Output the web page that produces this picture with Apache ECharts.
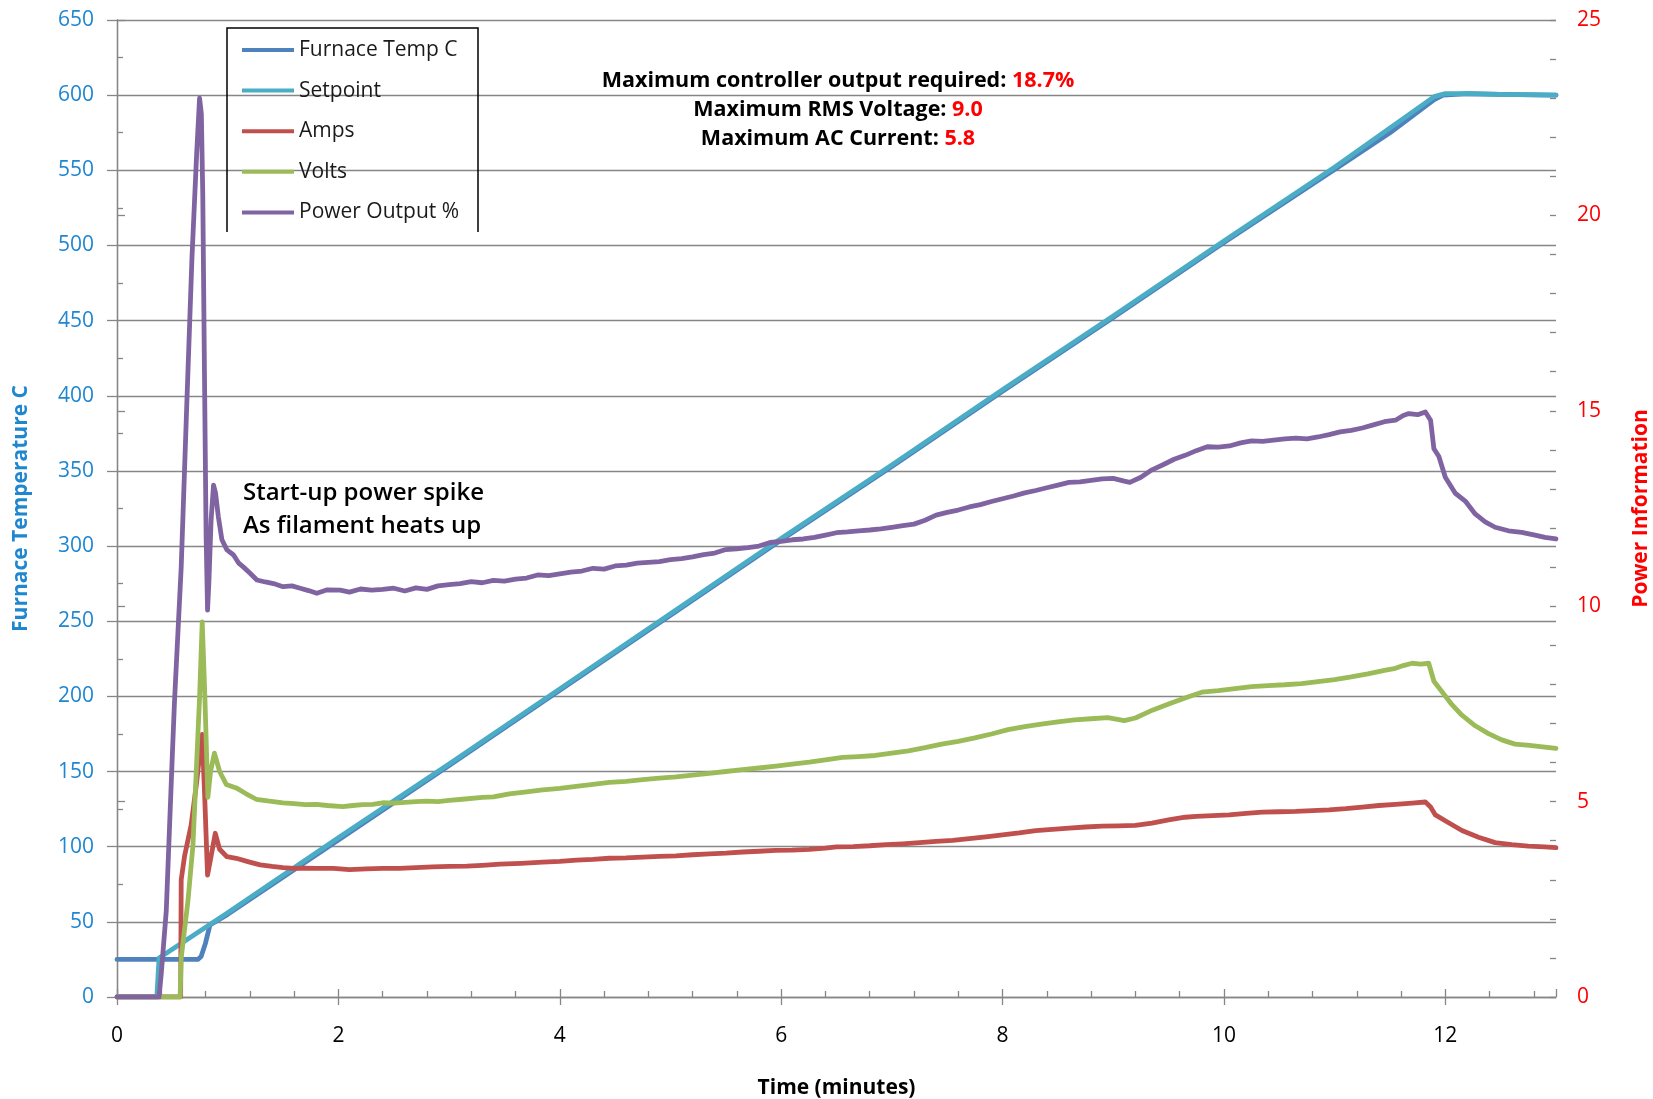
<!DOCTYPE html>
<html><head><meta charset="utf-8">
<script src="https://cdn.jsdelivr.net/npm/echarts/dist/echarts.min.js"></script>
<style>html,body{margin:0;padding:0;background:#fff}#c{width:1653px;height:1099px}</style>
</head><body><div id="c"></div><script>
const FONT = '"Open Sans", Lato, sans-serif';
const seriesNames = ['Furnace Temp C','Setpoint','Amps','Volts','Power Output %'];
const seriesColors = ['#4F81BD','#4BACC6','#C0504D','#9BBB59','#8064A2'];
const xRange = {min:0, max:13, interval:2};
const leftRange = {min:0, max:650, interval:50};
const rightRange = {min:0, max:25, interval:5};

const timeFurnace = [0,0.73,0.76,0.8,0.84,1,2,3,4,5,6,7,8,9,10,11,11.5,11.9,11.98,12.2,12.5,13];
const furnace = [25,25,27,36,48,55,104.5,154,204,254,304,353,403,452,502,550.5,575,597,600,601,600.5,600];
const timeSetpoint = [0,0.36,0.38,1,2,3,4,5,6,7,8,9,10,11,11.9,12.0,12.2,12.5,13];
const setpoint = [0,0,26,56,106,155,205,255,305,354,404,453,503,552,599,601,601,600.5,600];

const timeAmps = [0,0.575,0.58,0.61,0.67,0.72,0.75,0.77,0.79,0.818,0.85,0.888,0.927,0.993,1.077,1.198,1.294,1.4,1.5,1.595,1.7,1.8,1.956,2.1,2.25,2.4,2.55,2.7,2.85,3.0,3.16,3.3,3.46,3.65,3.846,4.0,4.15,4.3,4.448,4.6,4.75,4.9,5.05,5.2,5.35,5.5,5.652,5.8,5.95,6.1,6.254,6.4,6.5,6.65,6.8,6.95,7.097,7.25,7.4,7.55,7.699,7.85,8.0,8.15,8.3,8.45,8.6,8.75,8.9,9.05,9.2,9.35,9.5,9.65,9.75,9.9,10.047,10.2,10.348,10.5,10.649,10.8,10.95,11.1,11.25,11.4,11.55,11.7,11.82,11.867,11.91,12.03,12.15,12.3,12.45,12.6,12.75,12.9,13.0];
const amps = [0,0,3.0,3.6,4.4,5.5,6.3,6.72,5.3,3.12,3.6,4.19,3.78,3.59,3.55,3.45,3.38,3.34,3.31,3.29,3.3,3.29,3.29,3.26,3.28,3.29,3.29,3.31,3.33,3.34,3.35,3.37,3.4,3.42,3.45,3.47,3.5,3.52,3.55,3.56,3.58,3.6,3.61,3.64,3.66,3.68,3.71,3.73,3.75,3.76,3.78,3.81,3.84,3.85,3.87,3.9,3.92,3.95,3.98,4.01,4.05,4.1,4.15,4.2,4.26,4.29,4.32,4.35,4.37,4.38,4.39,4.45,4.53,4.6,4.62,4.64,4.66,4.7,4.73,4.74,4.75,4.77,4.79,4.82,4.86,4.9,4.93,4.96,4.99,4.86,4.66,4.46,4.26,4.09,3.95,3.9,3.86,3.84,3.82];

const timeVolts = [0,0.57,0.58,0.641,0.686,0.716,0.746,0.77,0.794,0.821,0.845,0.88,0.927,0.987,1.077,1.167,1.258,1.378,1.5,1.6,1.7,1.8,1.9,2.04,2.13,2.22,2.31,2.4,2.5,2.6,2.7,2.8,2.9,3.0,3.12,3.3,3.4,3.545,3.7,3.846,4.0,4.147,4.3,4.448,4.6,4.749,4.9,5.05,5.2,5.35,5.5,5.652,5.8,5.953,6.1,6.254,6.4,6.555,6.7,6.85,7.0,7.15,7.3,7.45,7.6,7.75,7.9,8.05,8.2,8.35,8.5,8.65,8.8,8.95,9.1,9.2,9.354,9.5,9.655,9.8,9.95,10.1,10.25,10.4,10.55,10.7,10.85,11.0,11.15,11.3,11.45,11.55,11.62,11.7,11.78,11.85,11.897,11.97,12.06,12.15,12.27,12.39,12.51,12.63,12.76,12.88,13.0];
const volts = [0,0,1.0,2.46,3.88,5.77,7.66,9.6,7.66,5.11,5.77,6.24,5.77,5.44,5.35,5.2,5.06,5.01,4.97,4.95,4.92,4.93,4.9,4.87,4.9,4.92,4.93,4.97,4.96,4.98,5.0,5.01,5.0,5.03,5.06,5.11,5.12,5.2,5.25,5.3,5.34,5.39,5.44,5.49,5.52,5.56,5.6,5.63,5.68,5.72,5.77,5.82,5.86,5.91,5.96,6.01,6.07,6.13,6.15,6.18,6.24,6.3,6.38,6.47,6.54,6.63,6.73,6.84,6.92,6.98,7.04,7.09,7.12,7.15,7.07,7.14,7.34,7.5,7.66,7.8,7.84,7.89,7.94,7.97,7.99,8.02,8.07,8.12,8.19,8.27,8.36,8.41,8.48,8.54,8.52,8.54,8.08,7.81,7.48,7.21,6.94,6.74,6.58,6.47,6.44,6.4,6.36];

const timePower = [0,0.38,0.40,0.445,0.5,0.52,0.58,0.626,0.677,0.72,0.746,0.762,0.775,0.79,0.805,0.818,0.83,0.85,0.872,0.89,0.915,0.948,0.993,1.053,1.1,1.143,1.2,1.264,1.34,1.414,1.5,1.58,1.655,1.73,1.805,1.9,2.016,2.1,2.2,2.3,2.4,2.5,2.6,2.7,2.8,2.9,3.0,3.1,3.2,3.3,3.4,3.5,3.6,3.7,3.8,3.9,4.0,4.1,4.2,4.3,4.4,4.5,4.6,4.7,4.8,4.9,5.0,5.1,5.2,5.3,5.4,5.5,5.6,5.7,5.8,5.9,6.0,6.1,6.2,6.3,6.4,6.5,6.6,6.7,6.8,6.9,7.0,7.1,7.2,7.3,7.4,7.5,7.6,7.7,7.8,7.9,8.0,8.1,8.2,8.3,8.4,8.5,8.6,8.7,8.8,8.9,9.0,9.1,9.15,9.25,9.35,9.45,9.55,9.65,9.75,9.85,9.95,10.05,10.15,10.25,10.35,10.45,10.55,10.65,10.75,10.85,10.95,11.05,11.15,11.25,11.35,11.45,11.55,11.62,11.67,11.75,11.82,11.867,11.897,11.942,12.0,12.09,12.18,12.27,12.36,12.45,12.57,12.69,12.81,12.9,13.0];
const power = [0,0,0.6,2.2,6.2,7.6,11.0,14.8,18.9,21.6,23.0,22.6,20.5,16.0,11.8,9.9,10.6,12.2,13.1,12.9,12.3,11.7,11.44,11.31,11.1,11.0,10.85,10.67,10.62,10.58,10.5,10.52,10.46,10.4,10.33,10.42,10.41,10.36,10.44,10.41,10.43,10.46,10.39,10.47,10.43,10.52,10.55,10.58,10.63,10.6,10.66,10.64,10.69,10.72,10.8,10.78,10.83,10.87,10.9,10.97,10.95,11.03,11.05,11.1,11.12,11.14,11.19,11.22,11.26,11.32,11.36,11.45,11.47,11.5,11.54,11.63,11.66,11.7,11.72,11.76,11.82,11.88,11.9,11.93,11.95,11.98,12.02,12.06,12.1,12.2,12.33,12.4,12.46,12.54,12.6,12.68,12.75,12.82,12.9,12.96,13.03,13.1,13.17,13.18,13.22,13.26,13.27,13.2,13.17,13.3,13.49,13.62,13.76,13.86,13.98,14.08,14.07,14.1,14.18,14.23,14.22,14.25,14.28,14.3,14.28,14.33,14.39,14.46,14.5,14.56,14.64,14.72,14.76,14.88,14.93,14.9,14.97,14.76,14.03,13.83,13.3,12.89,12.69,12.36,12.16,12.02,11.93,11.89,11.82,11.76,11.72];

const annotationLines = [
  ['Maximum controller output required: ', '18.7%'],
  ['Maximum RMS Voltage: ', '9.0'],
  ['Maximum AC Current: ', '5.8']
];
const spikeNote = ['Start-up power spike', 'As filament heats up'];

function zip(t, v) { return t.map((x, i) => [x, v[i]]); }

const AX = '#868686';
const GRID = {left:117, top:20, width:1439, height:977};
const LW = 4.8;

const chart = echarts.init(document.getElementById('c'), null, {renderer:'canvas'});
const seriesData = [zip(timeFurnace, furnace), zip(timeSetpoint, setpoint), zip(timeAmps, amps), zip(timeVolts, volts), zip(timePower, power)];
const yIdx = [0,0,1,1,1];

chart.setOption({
  animation:false,
  backgroundColor:'#fff',
  textStyle:{fontFamily:FONT},
  grid:Object.assign({containLabel:false, outerBoundsMode:'none'}, GRID),
  legend:{
    orient:'vertical', left:242, top:38, padding:0,
    itemWidth:52, itemHeight:4, itemGap:16.6,
    data:seriesNames.map(n => ({name:n, icon:'rect'})),
    textStyle:{fontFamily:FONT, fontSize:21, color:'#1a1a1a', lineHeight:24}
  },
  xAxis:[
    {type:'value', min:xRange.min, max:xRange.max, interval:xRange.interval, position:'bottom',
     axisLine:{lineStyle:{color:AX, width:1.3}},
     axisTick:{inside:false, length:8, lineStyle:{color:AX, width:1.3}},
     splitLine:{show:false},
     axisLabel:{margin:29, fontSize:21, color:'#000', fontFamily:FONT, showMaxLabel:false,
       formatter:v => (v % 2 === 0 ? String(v) : '')},
     name:'Time (minutes)', nameLocation:'middle', nameGap:81,
     nameTextStyle:{fontWeight:'bold', fontSize:21, color:'#000', fontFamily:FONT}},
    {type:'value', min:xRange.min, max:xRange.max, interval:xRange.interval, position:'bottom',
     axisLine:{show:false}, axisLabel:{show:false}, splitLine:{show:false},
     axisTick:{inside:true, length:8, lineStyle:{color:AX, width:1.3}},
     minorTick:{show:true, splitNumber:5, length:6, lineStyle:{color:AX, width:1.3}}}
  ],
  yAxis:[
    {type:'value', min:leftRange.min, max:leftRange.max, interval:leftRange.interval, position:'left',
     axisLine:{show:true, lineStyle:{color:AX, width:1.3}},
     axisTick:{show:true, inside:false, length:10, lineStyle:{color:AX, width:1.3}},
     splitLine:{show:true, lineStyle:{color:AX, width:1.3}},
     axisLabel:{margin:23, fontSize:21, color:'#1F86D0', fontFamily:FONT},
     name:'Furnace Temperature C', nameLocation:'middle', nameGap:85, nameRotate:90,
     nameTextStyle:{fontWeight:'bold', fontSize:21, color:'#1F86D0', fontFamily:FONT}},
    {type:'value', min:rightRange.min, max:rightRange.max, interval:rightRange.interval, position:'right',
     axisLine:{show:true, lineStyle:{color:AX, width:1.3}},
     axisTick:{show:true, inside:false, length:8, lineStyle:{color:AX, width:1.3}},
     splitLine:{show:false},
     axisLabel:{margin:21, fontSize:21, color:'#FF0000', fontFamily:FONT},
     name:'Power Information', nameLocation:'middle', nameGap:75, nameRotate:90,
     nameTextStyle:{fontWeight:'bold', fontSize:21, color:'#FF0000', fontFamily:FONT}},
    {type:'value', min:leftRange.min, max:leftRange.max, interval:leftRange.interval, position:'left',
     axisLine:{show:false}, axisLabel:{show:false}, splitLine:{show:false},
     axisTick:{show:false, inside:true},
     minorTick:{show:true, splitNumber:2, length:6, lineStyle:{color:AX, width:1.3}}},
    {type:'value', min:rightRange.min, max:rightRange.max, interval:rightRange.interval, position:'right',
     axisLine:{show:false}, axisLabel:{show:false}, splitLine:{show:false},
     axisTick:{show:true, inside:true, length:6, lineStyle:{color:AX, width:1.3}},
     minorTick:{show:true, splitNumber:5, length:6, lineStyle:{color:AX, width:1.3}}}
  ],
  series: seriesNames.map((n, i) => ({
    name:n, type:'line', xAxisIndex:0, yAxisIndex:yIdx[i], data:seriesData[i],
    showSymbol:false, symbol:'none', smooth:false,
    lineStyle:{color:seriesColors[i], width:LW, join:'round', cap:'round'},
    itemStyle:{color:seriesColors[i]},
    z:2+i
  })),
  graphic:[
    {type:'polyline', shape:{points:[[227,232],[227,28],[478,28],[478,232]]},
     style:{stroke:'#000', lineWidth:1.5, fill:null}, z:10},
    {type:'text', x:838, y:109.5, z:10,
     style:{
       text: annotationLines.map(l => '{b|' + l[0] + '}{r|' + l[1] + '}').join('\n'),
       align:'center', verticalAlign:'middle',
       rich:{
         b:{fontFamily:FONT, fontWeight:'bold', fontSize:21.5, fill:'#000', lineHeight:29},
         r:{fontFamily:FONT, fontWeight:'bold', fontSize:21.5, fill:'#FF0000', lineHeight:29}
       }
     }},
    {type:'text', x:243, y:509.5, z:10,
     style:{text:spikeNote.join('\n'), align:'left', verticalAlign:'middle',
       fontFamily:FONT, fontWeight:600, fontSize:24, fill:'#000', lineHeight:33.5}}
  ]
});
</script></body></html>
